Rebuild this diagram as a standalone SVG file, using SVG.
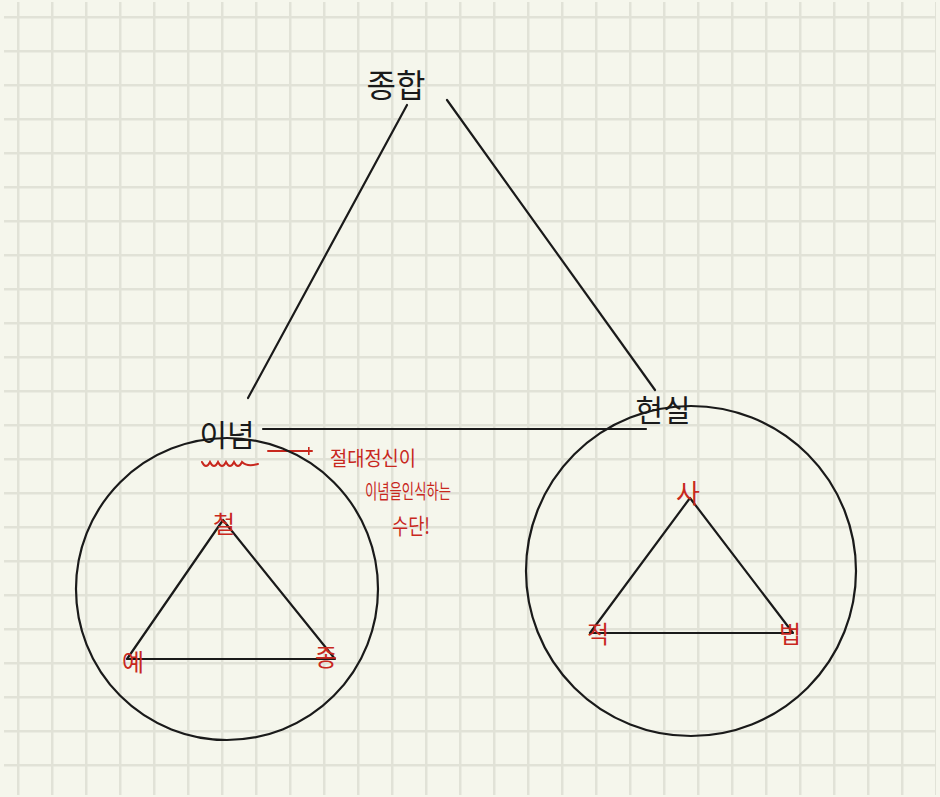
<svg xmlns="http://www.w3.org/2000/svg" width="940" height="797" viewBox="0 0 940 797">
<defs>
<pattern id="grid" x="17" y="16" width="34" height="34" patternUnits="userSpaceOnUse">
<rect x="0" y="0" width="34" height="2.5" fill="#e1e2d7"/>
<rect x="0" y="0" width="2.5" height="34" fill="#e1e2d7"/>
</pattern>
<marker id="redarrow" viewBox="0 0 10 10" refX="9" refY="5" markerWidth="8" markerHeight="8" orient="auto" markerUnits="userSpaceOnUse">
<path d="M5 0V10" stroke="#c8281e" stroke-width="2" fill="none"/>
</marker>
</defs>
<style>
.ink{fill:none;stroke:#1a1a1a;stroke-width:2.2;stroke-linecap:round}
.red{fill:none;stroke:#c8281e;stroke-width:2;stroke-linecap:round}
.lbl{font-family:"Noto Sans CJK KR","Noto Sans",sans-serif;font-weight:400;fill:#1a1a1a}
.rlbl{font-family:"Noto Sans CJK KR","Noto Sans",sans-serif;font-weight:400;fill:#c8281e}
</style>
<rect width="940" height="797" fill="#f5f6ec"/>
<rect x="4" y="2" width="932" height="793" fill="url(#grid)"/>
<g id="connectors">
<line class="ink" x1="407" y1="105" x2="248" y2="398"/>
<line class="ink" x1="447" y1="100" x2="655" y2="390"/>
<line class="ink" x1="263" y1="429" x2="646" y2="429"/>
<line class="red" x1="268" y1="451" x2="312" y2="451" marker-end="url(#redarrow)"/>
<path class="red" d="M202 462 q4 8 8 0 q4 8 8 0 q4 8 8 0 q4 8 8 0 q4 8 8 0 q5 5 16 2"/>
</g>
<g id="synthesis"><text class="lbl" x="396" y="97" font-size="32" text-anchor="middle">종합</text></g>
<g id="idea">
<text class="lbl" x="227" y="446" font-size="30" text-anchor="middle">이념</text>
<circle class="ink" cx="227" cy="589" r="151"/>
<polygon class="ink" points="223,520 127,659 335,659" stroke-linejoin="round"/>
<text class="rlbl" x="224" y="533" font-size="24" text-anchor="middle">철</text>
<text class="rlbl" x="133" y="671" font-size="24" text-anchor="middle">예</text>
<text class="rlbl" x="326" y="666" font-size="24" text-anchor="middle">종</text>
</g>
<g id="reality">
<text class="lbl" x="663" y="421" font-size="30" text-anchor="middle">현실</text>
<circle class="ink" cx="691" cy="571" r="165"/>
<polygon class="ink" points="690,498 590,633 793,633" stroke-linejoin="round"/>
<text class="rlbl" x="688" y="503" font-size="26" text-anchor="middle">사</text>
<text class="rlbl" x="598" y="643" font-size="24" text-anchor="middle">적</text>
<text class="rlbl" x="790" y="643" font-size="24" text-anchor="middle">법</text>
</g>
<g id="note">
<text class="rlbl" x="330" y="466" font-size="20" textLength="86" lengthAdjust="spacingAndGlyphs">절대정신이</text>
<text class="rlbl" x="365" y="499" font-size="20" textLength="86" lengthAdjust="spacingAndGlyphs">이념을인식하는</text>
<text class="rlbl" x="392" y="534" font-size="22" textLength="38" lengthAdjust="spacingAndGlyphs">수단!</text>
</g>
</svg>
